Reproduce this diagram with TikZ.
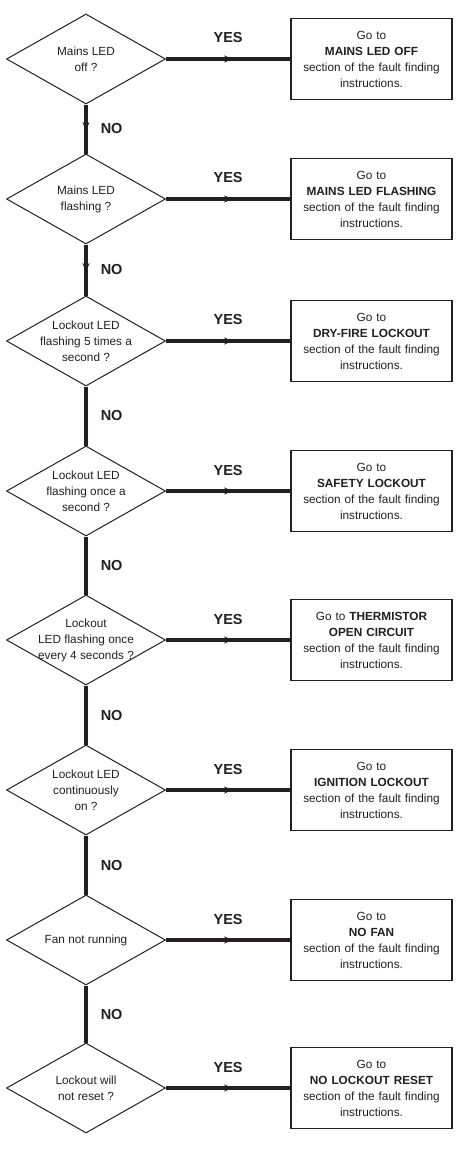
\documentclass[tikz,border=0pt]{standalone}
\usepackage{fontspec}
\setmainfont{Liberation Sans}
\usetikzlibrary{shapes.geometric, positioning, arrows.meta, decorations.markings}
\definecolor{ink}{HTML}{231F20}
\newcommand{\qfont}{\fontsize{11.8}{16}\selectfont}
\newcommand{\yfont}{\fontsize{14.5}{16}\selectfont\bfseries}

\tikzset{
  decision/.style={diamond, draw=ink, line width=1pt, inner sep=0pt,
    minimum width=159pt, minimum height=90pt,
    label={[align=center, font=\qfont, text=ink]center:#1}},
  action/.style={draw=ink, line width=1.6pt, inner sep=0pt,
    minimum width=161pt, minimum height=81pt,
    text width=155pt, align=center, font=\qfont},
  flow/.style={draw=ink, line width=3.5pt},
  midarrow/.style={postaction={decorate}, decoration={markings,
    mark=at position 0.54 with {\arrow{Stealth[length=9pt, width=7pt, inset=3pt]}}}},
  yes/.style={font=\yfont, midway, inner sep=0pt, yshift=21pt},
  no/.style={font=\yfont, midway, inner sep=0pt, anchor=west, xshift=13pt}
}

\begin{document}
\begin{tikzpicture}[x=1pt, y=-1pt, on grid, text=ink]
  \useasboundingbox (0,0) rectangle (470,1152);

  \node[decision={Mains LED\\off ?}] (q1) at (86,59) {};
  \node[decision={Mains LED\\flashing ?}] (q2) [below=140pt of q1] {};
  \node[decision={Lockout LED\\flashing 5 times a\\second ?}] (q3) [below=142pt of q2] {};
  \node[decision={Lockout LED\\flashing once a\\second ?}] (q4) [below=150pt of q3] {};
  \node[decision={Lockout\\LED flashing once\\every 4 seconds ?}] (q5) [below=149pt of q4] {};
  \node[decision={Lockout LED\\continuously\\on ?}] (q6) [below=150pt of q5] {};
  \node[decision={Fan not running}] (q7) [below=150pt of q6] {};
  \node[decision={Lockout will\\not reset ?}] (q8) [below=148pt of q7] {};

  \node[action] (a1) [right=285.5pt of q1] {Go to\\\textbf{MAINS LED OFF}\\section of the fault finding\\instructions.};
  \node[action] (a2) [right=285.5pt of q2] {Go to\\\textbf{MAINS LED FLASHING}\\section of the fault finding\\instructions.};
  \node[action] (a3) [right=285.5pt of q3] {Go to\\\textbf{DRY-FIRE LOCKOUT}\\section of the fault finding\\instructions.};
  \node[action] (a4) [right=285.5pt of q4] {Go to\\\textbf{SAFETY LOCKOUT}\\section of the fault finding\\instructions.};
  \node[action] (a5) [right=285.5pt of q5] {Go to \textbf{THERMISTOR}\\\textbf{OPEN CIRCUIT}\\section of the fault finding\\instructions.};
  \node[action] (a6) [right=285.5pt of q6] {Go to\\\textbf{IGNITION LOCKOUT}\\section of the fault finding\\instructions.};
  \node[action] (a7) [right=285.5pt of q7] {Go to\\\textbf{NO FAN}\\section of the fault finding\\instructions.};
  \node[action] (a8) [right=285.5pt of q8] {Go to\\\textbf{NO LOCKOUT RESET}\\section of the fault finding\\instructions.};

  \path[flow]
  (q1) edge[midarrow] node[yes] {YES} (a1)
    (q1) edge[midarrow] node[no] {NO} (q2)
  (q2) edge[midarrow] node[yes] {YES} (a2)
    (q2) edge[midarrow] node[no] {NO} (q3)
  (q3) edge[midarrow] node[yes] {YES} (a3)
    (q3) edge node[no] {NO} (q4)
  (q4) edge[midarrow] node[yes] {YES} (a4)
    (q4) edge node[no] {NO} (q5)
  (q5) edge[midarrow] node[yes] {YES} (a5)
    (q5) edge node[no] {NO} (q6)
  (q6) edge[midarrow] node[yes] {YES} (a6)
    (q6) edge node[no] {NO} (q7)
  (q7) edge[midarrow] node[yes] {YES} (a7)
    (q7) edge node[no] {NO} (q8)
  (q8) edge[midarrow] node[yes] {YES} (a8);

\end{tikzpicture}
\end{document}
